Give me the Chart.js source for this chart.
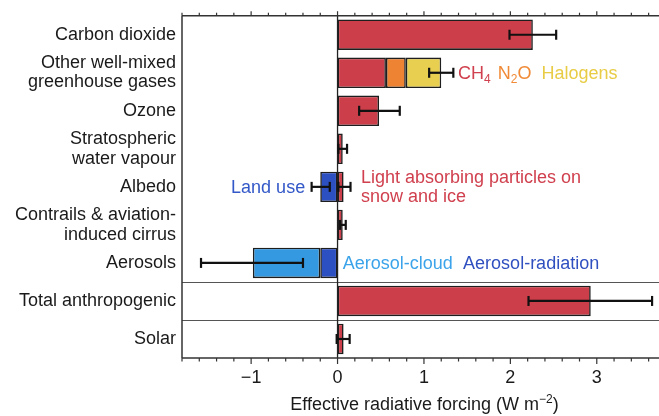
<!DOCTYPE html>
<html><head><meta charset="utf-8">
<script src="https://cdn.jsdelivr.net/npm/chart.js@4.4.1/dist/chart.umd.min.js"></script>
<style>html,body{margin:0;padding:0;background:#fff;}canvas{display:block;}</style>
</head><body>
<canvas id="c" width="659" height="416"></canvas>
<script>
const categories = [["Carbon dioxide"],["Other well-mixed","greenhouse gases"],["Ozone"],["Stratospheric","water vapour"],["Albedo"],["Contrails & aviation-","induced cirrus"],["Aerosols"],["Total anthropogenic"],["Solar"]];
const warming          = [2.26, 0.56, 0.48, 0.06, 0.07, 0.06, null, 2.93, 0.07];
const nitrousOxide     = [null, 0.23, null, null, null, null, null, null, null];
const halogens         = [null, 0.41, null, null, null, null, null, null, null];
const landUse          = [null, null, null, null, -0.20, null, null, null, null];
const aerosolRadiation = [null, null, null, null, null, null, -0.20, null, null];
const aerosolCloud     = [null, null, null, null, null, null, -0.78, null, null];
const errLow  = [1.99, 1.06, 0.25, 0.01, 0.01, 0.03, -1.58, 2.21, -0.01];
const errHigh = [2.53, 1.34, 0.72, 0.11, 0.15, 0.095, -0.40, 3.64, 0.14];
const landUseErr = [-0.30, -0.09];
const xTicks = [-1, 0, 1, 2, 3];
const xMin = -1.8, xMax = 3.72;

const FONT = "'Liberation Sans', Arial, Helvetica, sans-serif";
Chart.defaults.font.family = FONT;

const RED = '#cc3e4a', ORANGE = '#ee8334', YELLOW = '#e9cf50', LBLUE = '#3499e0', DBLUE = '#2c50c2';

function ds(label, data, color){
  return {label, data, backgroundColor: color, borderColor: '#1e1e1e', borderWidth: 1.6, borderSkipped: false,
          barPercentage: 0.8, categoryPercentage: 1.0};
}

function line(ctx,x1,y1,x2,y2){ctx.beginPath();ctx.moveTo(x1,y1);ctx.lineTo(x2,y2);ctx.stroke();}

function rich(ctx, parts, x, y, color){
  let cx = x;
  ctx.fillStyle = color;
  ctx.textBaseline = 'alphabetic';
  ctx.textAlign = 'left';
  for (const p of parts){
    if (p.sub){ ctx.font = '12px ' + FONT; ctx.fillText(p.t, cx, y + 4); }
    else if (p.sup){ ctx.font = '12px ' + FONT; ctx.fillText(p.t, cx, y - 7); }
    else { ctx.font = '18px ' + FONT; ctx.fillText(p.t, cx, y); }
    cx += ctx.measureText(p.t).width;
  }
  return cx - x;
}
function richWidth(ctx, parts){
  let w = 0;
  for (const p of parts){ ctx.font = ((p.sub||p.sup)?'12px ':'18px ') + FONT; w += ctx.measureText(p.t).width; }
  return w;
}

const overlay = {
  id: 'overlay',
  afterDatasetsDraw(chart){
    const {ctx, chartArea: a, scales: {x, y}} = chart;
    ctx.save();
    // separators
    ctx.strokeStyle = '#555'; ctx.lineWidth = 1.2;
    [[6,7],[7,8]].forEach(([i,j])=>{
      const py = Math.round((y.getPixelForValue(i)+y.getPixelForValue(j))/2)+0.5;
      line(ctx, a.left, py, a.right, py);
    });
    // zero line
    ctx.strokeStyle = '#222'; ctx.lineWidth = 1.3;
    const x0 = x.getPixelForValue(0);
    line(ctx, x0, a.top, x0, a.bottom);
    // frame
    ctx.strokeStyle = '#333'; ctx.lineWidth = 1.5;
    line(ctx, a.left, a.top, a.right, a.top);
    line(ctx, a.left, a.bottom, a.right, a.bottom);
    line(ctx, a.left, a.top, a.left, a.bottom);
    // ticks
    ctx.lineWidth = 1.2; ctx.strokeStyle = '#333';
    for (let i = -9; i <= 19; i++){
      const v = i * 0.2;
      if (v < xMin - 1e-9 || v > xMax + 1e-9) continue;
      const px = x.getPixelForValue(v);
      const major = Math.abs(v - Math.round(v)) < 1e-6;
      line(ctx, px, a.bottom, px, a.bottom + (major ? 6 : 3.5));
      line(ctx, px, a.top, px, a.top - (major ? 4.5 : 3));
    }
    // error bars
    ctx.strokeStyle = '#111'; ctx.lineWidth = 2.2;
    const bar = (lo, hi, row) => {
      const py = y.getPixelForValue(row);
      const l = x.getPixelForValue(lo), h = x.getPixelForValue(hi);
      line(ctx, l, py, h, py);
      line(ctx, l, py - 5, l, py + 5);
      line(ctx, h, py - 5, h, py + 5);
    };
    errLow.forEach((lo, i) => bar(lo, errHigh[i], i));
    bar(landUseErr[0], landUseErr[1], 4);
    // annotations
    const r1 = y.getPixelForValue(1) + 6;
    rich(ctx, [{t:'CH'},{t:'4',sub:true}], x.getPixelForValue(1.395), r1, '#d0404e');
    rich(ctx, [{t:'N'},{t:'2',sub:true},{t:'O'}], x.getPixelForValue(1.855), r1, '#f08a36');
    rich(ctx, [{t:'Halogens'}], x.getPixelForValue(2.36), r1, '#e8cc45');
    const r4 = y.getPixelForValue(4);
    rich(ctx, [{t:'Light absorbing particles on'}], x.getPixelForValue(0.27), r4 - 3.5, '#d0404e');
    rich(ctx, [{t:'snow and ice'}], x.getPixelForValue(0.27), r4 + 15.5, '#d0404e');
    ctx.font = '18px ' + FONT;
    const luw = ctx.measureText('Land use').width;
    rich(ctx, [{t:'Land use'}], x.getPixelForValue(-0.375) - luw, r4 + 6, '#3358c8');
    const r6 = y.getPixelForValue(6) + 6;
    rich(ctx, [{t:'Aerosol-cloud'}], x.getPixelForValue(0.06), r6, '#3ba3ea');
    rich(ctx, [{t:'Aerosol-radiation'}], x.getPixelForValue(1.453), r6, '#3050c0');
    // axis title
    const tparts = [{t:'Effective radiative forcing (W m'},{t:'\u22122',sup:true},{t:')'}];
    const tw = richWidth(ctx, tparts);
    const cxm = (a.left + a.right) / 2 + 4;
    rich(ctx, tparts, cxm - tw/2, 410, '#1a1a1a');
    ctx.restore();
  }
};

new Chart(document.getElementById('c'), {
  type: 'bar',
  data: {
    labels: categories,
    datasets: [
      ds('CO2 / CH4 / other', warming, RED),
      ds('N2O', nitrousOxide, ORANGE),
      ds('Halogens', halogens, YELLOW),
      ds('Land use', landUse, DBLUE),
      ds('Aerosol-radiation', aerosolRadiation, DBLUE),
      ds('Aerosol-cloud', aerosolCloud, LBLUE)
    ]
  },
  options: {
    indexAxis: 'y',
    responsive: false,
    animation: false,
    layout: {padding: {top: 10, right: 0, left: 0, bottom: 0}},
    plugins: {legend: {display: false}, tooltip: {enabled: false}},
    scales: {
      x: {
        type: 'linear', stacked: true, min: xMin, max: xMax,
        grid: {display: false, drawTicks: false},
        border: {display: false},
        afterBuildTicks: (s) => { s.ticks = xTicks.map(v => ({value: v})); },
        afterFit: (s) => { s.height = 58; },
        ticks: {
          padding: 9, color: '#1a1a1a', font: {size: 18},
          callback: (v) => (v < 0 ? '\u2212' + Math.abs(v) : String(v))
        }
      },
      y: {
        stacked: true,
        grid: {display: false, drawTicks: false},
        border: {display: false},
        afterFit: (s) => { s.width = 182; },
        ticks: {padding: 6, color: '#1a1a1a', autoSkip: false, font: {size: 18, lineHeight: 1.08}}
      }
    }
  },
  plugins: [overlay]
});
</script>
</body></html>
